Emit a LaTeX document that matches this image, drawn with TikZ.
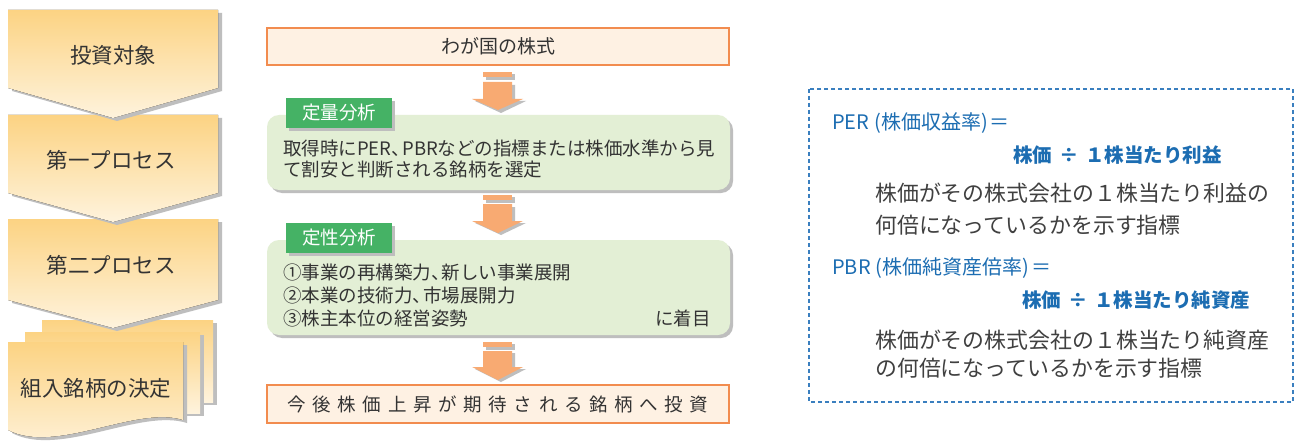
\documentclass[tikz,border=0pt]{standalone}
\usepackage{fontspec}
\setmainfont{Noto Sans CJK JP}
\newcommand{\tten}{、\kern-0.42em}
\begin{document}
\begin{tikzpicture}[x=1pt,y=-1pt,
  chev/.style={top color=chtop,bottom color=chbot,draw=none},
  shad/.style={fill=shgray,draw=none},
  obox/.style={fill=ofill,draw=oline,line width=1.4pt},
  gbox/.style={fill=gfill,draw=none,rounded corners=12pt},
  glab/.style={fill=glabel,draw=none},
  arr/.style={fill=arrcol,draw=none},
  txt/.style={inner sep=0pt,text=txtc},
  btxt/.style={inner sep=0pt,text=bluet}]
\definecolor{chtop}{HTML}{FCD383}
\definecolor{chbot}{HTML}{FEF3DD}
\definecolor{shgray}{HTML}{BEBEBE}
\definecolor{ofill}{HTML}{FEF1E3}
\definecolor{oline}{HTML}{F28C4F}
\definecolor{gfill}{HTML}{E3EFD5}
\definecolor{glabel}{HTML}{45B265}
\definecolor{arrcol}{HTML}{F8AA72}
\definecolor{txtc}{HTML}{333333}
\definecolor{bluet}{HTML}{1C6DB2}
\definecolor{dashc}{HTML}{3A7FBF}
\definecolor{grayt}{HTML}{404040}
\useasboundingbox (0,0) rectangle (1300,441);
\fill[white] (0,0) rectangle (1300,441);
% ---- stacked pages (bottom of left column)
\fill[shad] (46,323) rectangle (217,405);
\fill[chev] (42,320) rectangle (213,402);
\fill[shad] (29,335) rectangle (204,416);
\fill[chev] (25,332) rectangle (200,413);
\fill[shad] (12,345) -- (187,345) -- (187,423) .. controls (140,408) and (60,458) .. (12,433) -- cycle;
\fill[chev] (8,342) -- (183,342) -- (183,420) .. controls (136,405) and (56,455) .. (8,430) -- cycle;
% ---- chevrons
\fill[shad] (12,222) -- (222,222) -- (222,303) -- (117,331) -- (12,303) -- cycle;
\fill[chev] (8,219) -- (218,219) -- (218,300) -- (113,328) -- (8,300) -- cycle;
\fill[shad] (12,118) -- (222,118) -- (222,196) -- (117,225) -- (12,196) -- cycle;
\fill[chev] (8,115) -- (218,115) -- (218,193) -- (113,222) -- (8,193) -- cycle;
\fill[shad] (12,13) -- (222,13) -- (222,91) -- (117,121) -- (12,91) -- cycle;
\fill[chev] (8,10) -- (218,10) -- (218,88) -- (113,118) -- (8,88) -- cycle;
\node[txt,font=\fontsize{21.5}{25}\selectfont] (c1) at (113,55) {投資対象};
\node[txt,font=\fontsize{21.5}{25}\selectfont] (c2) at (111,160) {第一プロセス};
\node[txt,font=\fontsize{21.5}{25}\selectfont] (c3) at (111,265) {第二プロセス};
\node[txt,font=\fontsize{21.5}{25}\selectfont] (c4) at (96,388) {組入銘柄の決定};
% ---- middle column
\draw[obox] (267,28) rectangle (729,65);
\node[txt,font=\fontsize{19}{22}\selectfont] (m1) at (498,46) {わが国の株式};
% arrow 1
\fill[shad] (486,74) rectangle (515,80);
\fill[shad] (486,85) -- (515,85) -- (515,101) -- (526,101) -- (501,113) -- (475,101) -- (486,101) -- cycle;
\fill[arr] (483,72) rectangle (512,77);
\fill[arr] (483,82) -- (512,82) -- (512,99) -- (523,99) -- (498,110) -- (472,99) -- (483,99) -- cycle;
% green box 1
\fill[shad, rounded corners=12pt] (270,118) rectangle (733,193);
\fill[gbox] (267,115) rectangle (730,190);
\fill[shad] (289,101) rectangle (395,131);
\fill[glab] (286,98) rectangle (392,128);
\node[inner sep=0pt,text=white,font=\fontsize{18.5}{22}\selectfont] (l1) at (339,113) {定量分析};
\node[txt,anchor=west,font=\fontsize{18.5}{22}\selectfont] (g1a) at (283,148) {取得時にPER\tten PBRなどの指標または株価水準から見};
\node[txt,anchor=west,font=\fontsize{18.5}{22}\selectfont] (g1b) at (283,170) {て割安と判断される銘柄を選定};
% arrow 2
\fill[shad] (486,197) rectangle (515,203);
\fill[shad] (486,207) -- (515,207) -- (515,223) -- (526,223) -- (501,235) -- (475,223) -- (486,223) -- cycle;
\fill[arr] (483,195) rectangle (512,200);
\fill[arr] (483,204) -- (512,204) -- (512,221) -- (523,221) -- (498,233) -- (472,221) -- (483,221) -- cycle;
% green box 2
\fill[shad, rounded corners=12pt] (270,243) rectangle (733,338);
\fill[gbox] (267,240) rectangle (730,335);
\fill[shad] (289,226) rectangle (395,256);
\fill[glab] (286,223) rectangle (392,253);
\node[inner sep=0pt,text=white,font=\fontsize{18.5}{22}\selectfont] (l2) at (339,238) {定性分析};
\node[txt,anchor=west,font=\fontsize{18.5}{22}\selectfont] (g2a) at (283,272) {①事業の再構築力\tten 新しい事業展開};
\node[txt,anchor=west,font=\fontsize{18.5}{22}\selectfont] (g2b) at (283,295) {②本業の技術力\tten 市場展開力};
\node[txt,anchor=west,font=\fontsize{18.5}{22}\selectfont] (g2c) at (283,318) {③株主本位の経営姿勢};
\node[txt,anchor=east,font=\fontsize{18.5}{22}\selectfont] (g2d) at (711,318) {に着目};
% arrow 3
\fill[shad] (486,344) rectangle (515,350);
\fill[shad] (486,353) -- (515,353) -- (515,369) -- (526,369) -- (501,382) -- (475,369) -- (486,369) -- cycle;
\fill[arr] (483,342) rectangle (512,347);
\fill[arr] (483,351) -- (512,351) -- (512,367) -- (523,367) -- (498,380) -- (472,367) -- (483,367) -- cycle;
% bottom box
\draw[obox] (267,385) rectangle (729,423);
\node[txt,font=\fontsize{18.5}{22}\selectfont] (m2) at (498,404) {\makebox[421pt][s]{今\hfill 後\hfill 株\hfill 価\hfill 上\hfill 昇\hfill が\hfill 期\hfill 待\hfill さ\hfill れ\hfill る\hfill 銘\hfill 柄\hfill へ\hfill 投\hfill 資}};
% ---- right dashed box
\draw[dashc, line width=1.1pt, dash pattern=on 4pt off 3pt] (809,89) rectangle (1293,402);
\node[btxt,anchor=west,font=\fontsize{20}{23}\selectfont] (p1) at (832,123) {PER\kern0.25em(株価収益率)\kern0.1em＝};
\node[btxt,anchor=west,font=\fontsize{19.5}{23}\selectfont\bfseries] (p2) at (1013,155) {株価\hspace{0.35em}÷\hspace{0.35em}１株当たり利益};
\node[inner sep=0pt,text=grayt,anchor=west,font=\fontsize{21.9}{26}\selectfont] (p3) at (875,193) {株価がその株式会社の１株当たり利益の};
\node[inner sep=0pt,text=grayt,anchor=west,font=\fontsize{21.9}{26}\selectfont] (p4) at (875,225) {何倍になっているかを示す指標};
\node[btxt,anchor=west,font=\fontsize{20}{23}\selectfont] (b1) at (832,268) {PBR\kern0.25em(株価純資産倍率)\kern0.1em＝};
\node[btxt,anchor=west,font=\fontsize{19.5}{23}\selectfont\bfseries] (b2) at (1022,300) {株価\hspace{0.35em}÷\hspace{0.35em}１株当たり純資産};
\node[inner sep=0pt,text=grayt,anchor=west,font=\fontsize{21.9}{26}\selectfont] (b3) at (875,340) {株価がその株式会社の１株当たり純資産};
\node[inner sep=0pt,text=grayt,anchor=west,font=\fontsize{21.9}{26}\selectfont] (b4) at (875,368) {の何倍になっているかを示す指標};
\end{tikzpicture}
\end{document}
